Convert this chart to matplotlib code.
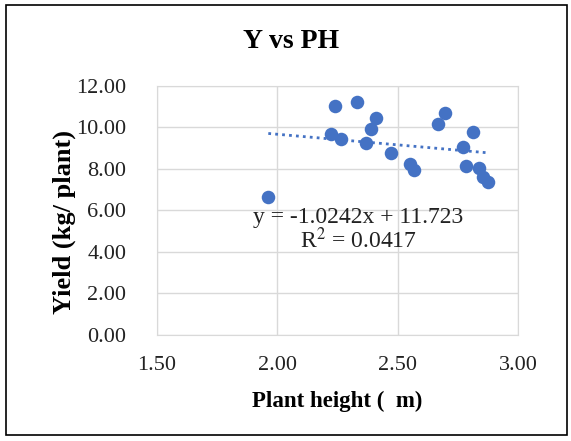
import numpy as np
import matplotlib
matplotlib.use("Agg")
from matplotlib import pyplot as plt
from matplotlib.patches import Rectangle

# plant height (m) and yield (kg/plant)
height = [1.963, 2.223, 2.241, 2.263, 2.332, 2.367, 2.389, 2.411, 2.472, 2.552,
          2.566, 2.666, 2.695, 2.772, 2.782, 2.811, 2.837, 2.855, 2.873]
yld = [6.66, 9.67, 11.05, 9.46, 11.24, 9.27, 9.91, 10.46, 8.77, 8.24,
       7.95, 10.17, 10.68, 9.06, 8.14, 9.80, 8.03, 7.60, 7.39]
slope, intercept = -1.0242, 11.723
eq_text = "y = -1.0242x + 11.723\nR$^2$ = 0.0417"
xticks = [1.5, 2.0, 2.5, 3.0]
yticks = [0, 2, 4, 6, 8, 10, 12]

plt.rcParams['font.family'] = ['Liberation Serif', 'DejaVu Serif']
plt.rcParams['mathtext.fontset'] = 'stix'

fig = plt.figure(figsize=(5.71, 4.41), dpi=100)
ax = fig.add_axes([0.2744, 0.2404, 0.6333, 0.5646])

blue = '#4472C4'
ax.scatter(height, yld, s=95, color=blue, zorder=3, linewidths=0)
xs = np.array([min(height), max(height)])
ax.plot(xs, slope * xs + intercept, linestyle=(0, (1, 1.5)), color=blue, lw=2, zorder=2)

ax.set_xlim(1.5, 3.0)
ax.set_ylim(0, 12)
ax.set_xticks(xticks)
ax.set_yticks(yticks)
ax.set_xticklabels([f"{v:.2f}" for v in xticks])
ax.set_yticklabels([f"{v:.2f}" for v in yticks])
ax.tick_params(length=0, labelsize=16, colors='#222222')
ax.tick_params(axis='y', pad=22)
ax.tick_params(axis='x', pad=15)
ax.grid(True, color='#d9d9d9', lw=1)
ax.set_axisbelow(True)
for s in ax.spines.values():
    s.set_color('#d9d9d9')

fig.text(0.51, 1 - 42 / 441, "Y vs PH", fontsize=20, fontweight='bold',
         ha='center', va='center')
ax.set_xlabel("Plant height (  m)", fontsize=16.5, fontweight='bold', va='center')
ax.xaxis.set_label_coords(0.5, -0.265)
ax.set_ylabel("Yield (kg/ plant)", fontsize=19, fontweight='bold', va='center')
ax.yaxis.set_label_coords(-0.256, 0.454)

ax.text(2.335, 5.05, eq_text, fontsize=17, ha='center', va='center',
        linespacing=1.0, color='#222222')

fig.patches.append(Rectangle((0.0105, 0.0136), 0.9825, 0.975, transform=fig.transFigure,
                             fill=False, edgecolor='black', lw=1.2))

fig.savefig("out.png", dpi=100)
